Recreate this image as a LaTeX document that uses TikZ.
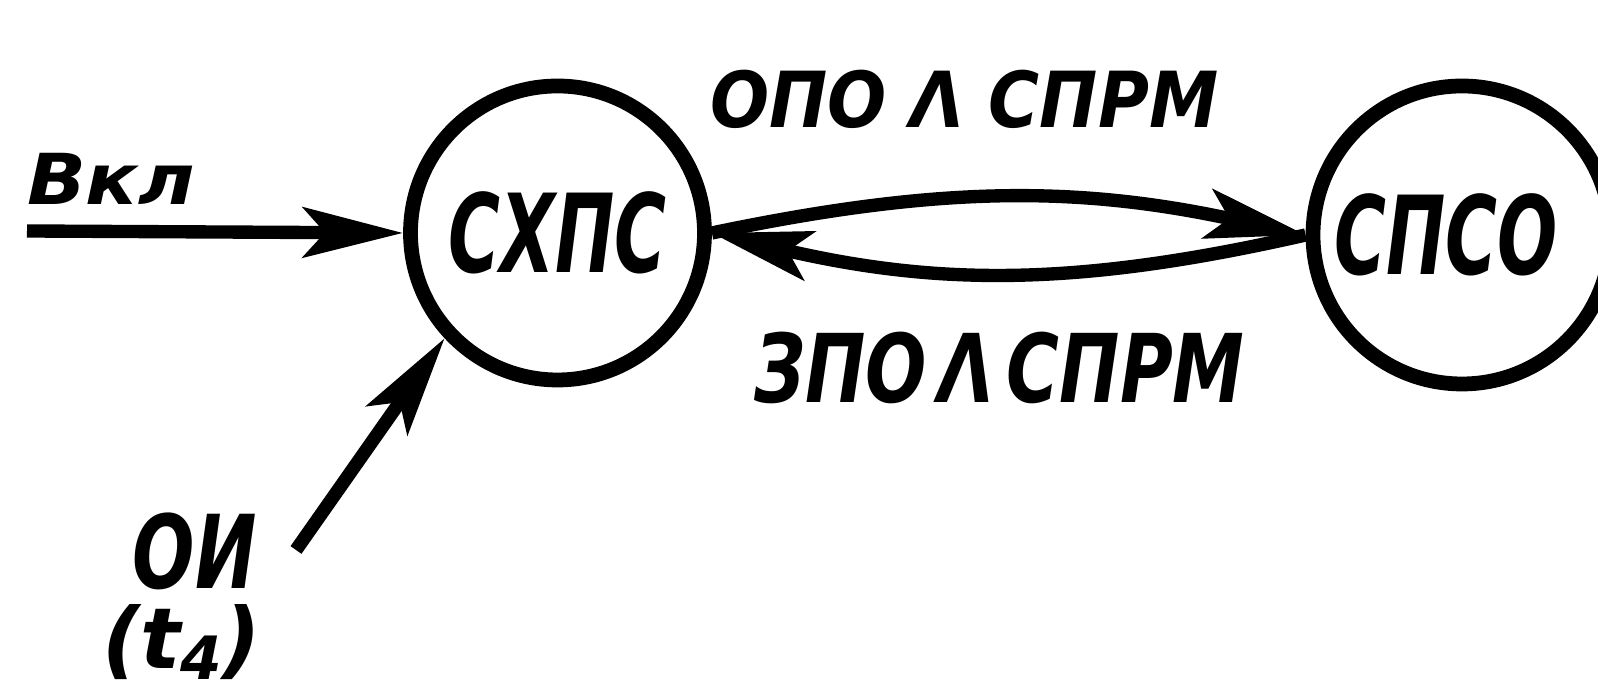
\documentclass[tikz,border=0pt]{standalone}
\usepackage{fontspec}
\setmainfont{DejaVu Sans}
\usetikzlibrary{arrows.meta, positioning}

\tikzset{
  state/.style={circle, draw, line width=4.2pt, inner sep=0pt},
  sig/.style={line width=3.8pt, -{Stealth[length=10mm, width=5mm, inset=2.2mm]}},
  lbl/.style={inner sep=0pt, outer sep=0pt},
}
\newcommand{\lblfont}[1]{\bfseries\itshape\fontsize{#1}{#1}\selectfont}

\begin{document}
\begin{tikzpicture}
  \useasboundingbox (0,0) rectangle (15.98,6.91);

  % --- States ---
  \node[state, minimum size=2.94cm] (sxps) at (5.575,4.58) {};
  \node[state, minimum size=2.98cm] (spso) at (14.62,4.56) {};
  \node[lbl, xscale=0.65, font=\lblfont{31}] (sxpstxt) at (sxps.center) {СХПС};
  \node[lbl, xscale=0.65, font=\lblfont{31}, xshift=-2.4mm] (spsotxt) at (spso.center) {СПСО};

  % --- Inputs ---
  \coordinate (vklin) at (0.27,4.60);
  \coordinate (oiin) at (2.96,1.41);
  \node[lbl, anchor=base west, xscale=1.1, font=\lblfont{20}] (vkl) at (0.27,4.86) {Вкл};
  \node[lbl, anchor=base west, xscale=0.72, font=\lblfont{29}] (oi) at (1.33,1.02) {ОИ};
  \node[lbl, anchor=base west, font=\lblfont{24}] (tfour) at (1.02,0.22)
    {(t\raisebox{-0.12em}{\fontsize{17}{17}\selectfont 4})};

  % --- Transition labels ---
  \node[lbl, anchor=base west, xscale=0.9, font=\lblfont{22}] (opo) at (7.10,5.63) {ОПО Λ СПРМ};
  \node[lbl, anchor=base west, xscale=0.76, font=\lblfont{27}] (zpo) at (7.54,2.88) {ЗПО\,Λ\,СПРМ};

  % --- Connectors ---
  \draw[sig] (vklin) -- (sxps.west);
  \draw[sig] (oiin) -- (sxps.223);
  \draw[sig] (sxps.east) to[bend left=12] (spso.west);
  \draw[sig] (spso.west) to[bend left=13] (sxps.east);
\end{tikzpicture}
\end{document}
